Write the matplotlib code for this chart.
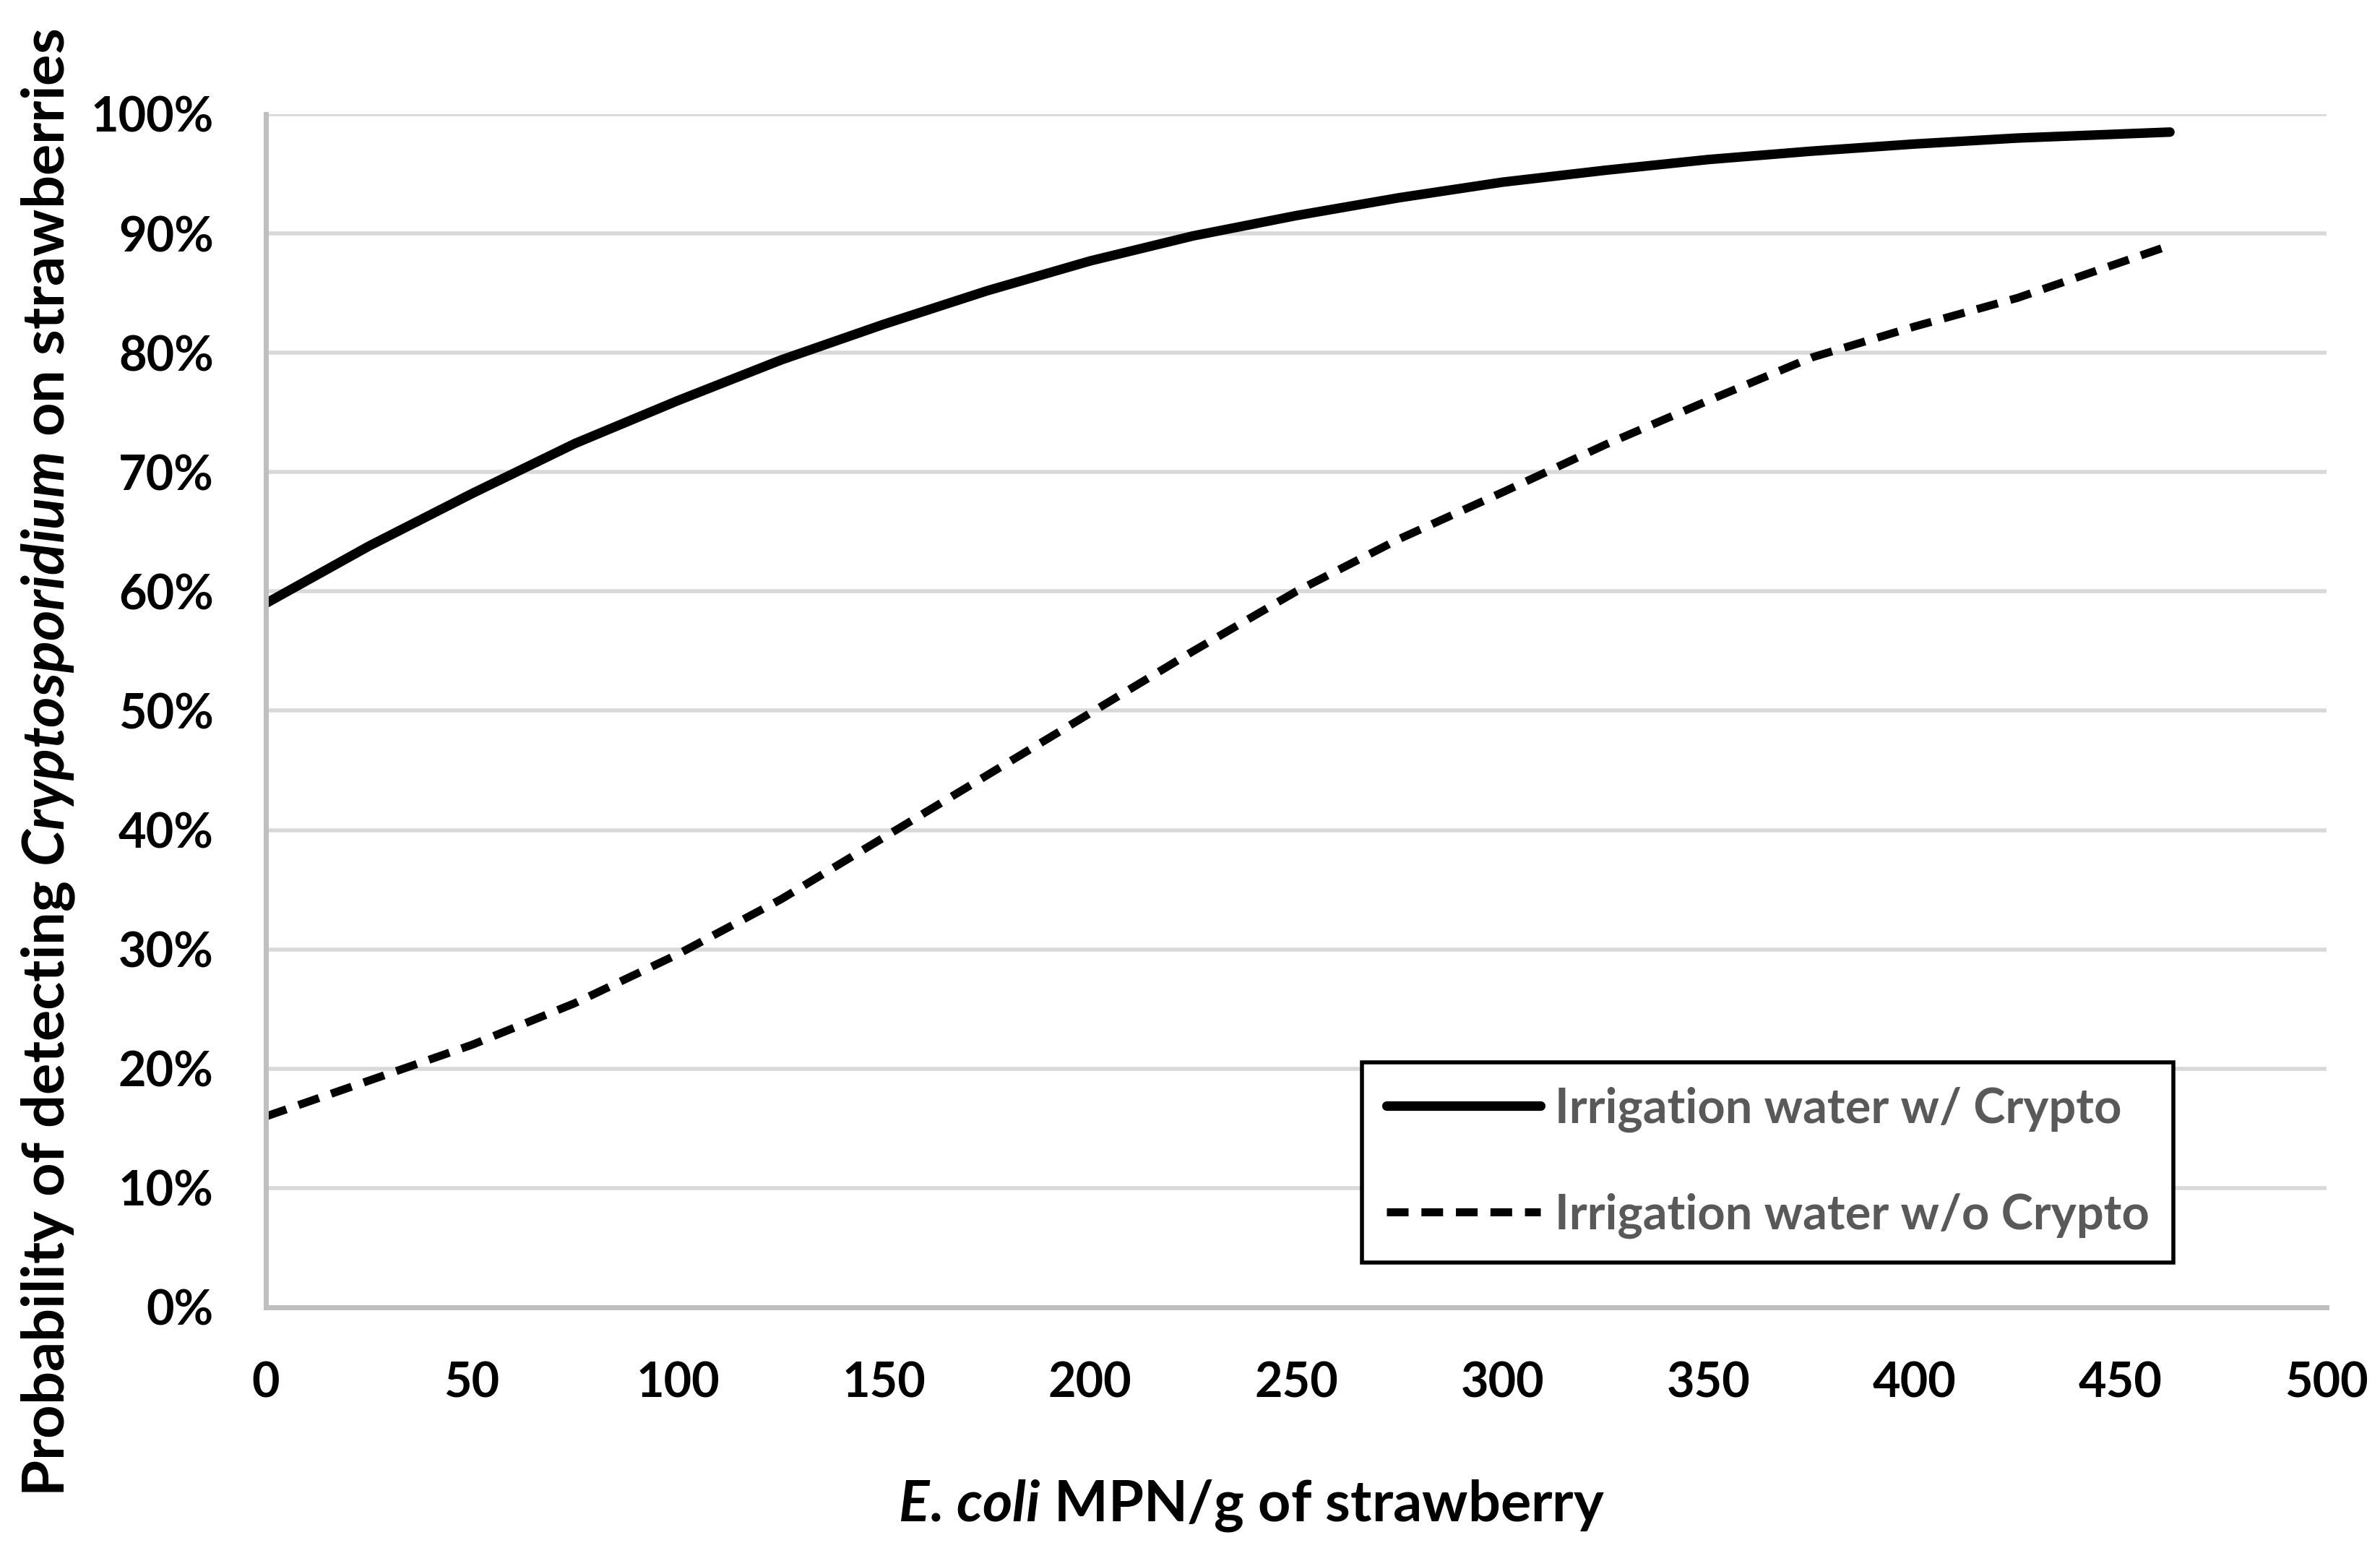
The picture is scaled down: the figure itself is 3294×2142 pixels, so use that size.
import matplotlib
matplotlib.use("Agg")
import matplotlib.pyplot as plt
from matplotlib.ticker import PercentFormatter

plt.rcParams['font.family'] = ['Lato', 'DejaVu Sans']
plt.rcParams['font.weight'] = 'bold'
plt.rcParams['mathtext.fontset'] = 'custom'
plt.rcParams['mathtext.rm'] = 'Lato:bold'
plt.rcParams['mathtext.it'] = 'Lato:italic:bold'

# E. coli MPN/g of strawberry
ecoli = [0, 25, 50, 75, 100, 125, 150, 175, 200, 225, 250, 275, 300, 325, 350, 375, 400, 425, 462]
# probability (%) - irrigation water with Crypto
with_crypto = [59, 63.8, 68.2, 72.4, 76.0, 79.4, 82.4, 85.2, 87.7, 89.8, 91.5, 93.0, 94.3, 95.3, 96.2, 96.9, 97.5, 98.0, 98.5]
# probability (%) - irrigation water without Crypto
without_crypto = [16, 19, 22, 25.5, 29.6, 34.2, 39.4, 44.6, 49.8, 55.0, 60.0, 64.4, 68.3, 72.3, 76.0, 79.6, 82.2, 84.6, 89.0]

xticks = list(range(0, 501, 50))
yticks = list(range(0, 101, 10))

W, H = 3294, 2142
fig = plt.figure(figsize=(W / 100, H / 100), dpi=100)
ax = fig.add_axes([368 / W, (H - 1809) / H, 2852 / W, 1651 / H])

ax.plot(ecoli, with_crypto, color='black', lw=9.5, solid_capstyle='round',
        label='Irrigation water w/ Crypto')
ax.plot(ecoli, without_crypto, color='black', lw=8, ls=(0, (2.7, 1.6)),
        label='Irrigation water w/o Crypto')

ax.set_xlim(0, 500)
ax.set_ylim(0, 100)
ax.set_xticks(xticks)
ax.set_yticks(yticks)
ax.yaxis.set_major_formatter(PercentFormatter(decimals=0))
ax.tick_params(length=0, labelsize=48)
ax.tick_params(axis='y', pad=52)
ax.tick_params(axis='x', pad=54)
ax.grid(axis='y', color='#d9d9d9', lw=4)
ax.set_axisbelow(True)
for s in ['top', 'right']:
    ax.spines[s].set_visible(False)
ax.spines['left'].set_color('#bfbfbf')
ax.spines['left'].set_linewidth(5)
ax.spines['bottom'].set_color('#bfbfbf')
ax.spines['bottom'].set_linewidth(5)

# axis titles placed in figure pixels like the original
fig.text(1732 / W, 1 - 2105 / H, r'$\it{E}$. $\it{coli}$ MPN/g of strawberry',
         fontsize=57, fontweight='bold', ha='center', va='baseline')
fig.text(89 / W, 1 - 1055 / H,
         r'Probability of detecting $\it{Cryptosporidium}$ on strawberries',
         fontsize=58.5, fontweight='bold', rotation=90, rotation_mode='anchor',
         ha='center', va='baseline')

leg = ax.legend(loc='lower left', bbox_to_anchor=(0.532, 0.0376), fontsize=48,
                handlelength=3.2, handletextpad=0.3, labelspacing=1.25,
                borderpad=0.5, borderaxespad=0, fancybox=False, framealpha=1)
leg.get_frame().set_edgecolor('black')
leg.get_frame().set_linewidth(4)
for t in leg.get_texts():
    t.set_color('#595959')

fig.savefig('out.png', dpi=100)
